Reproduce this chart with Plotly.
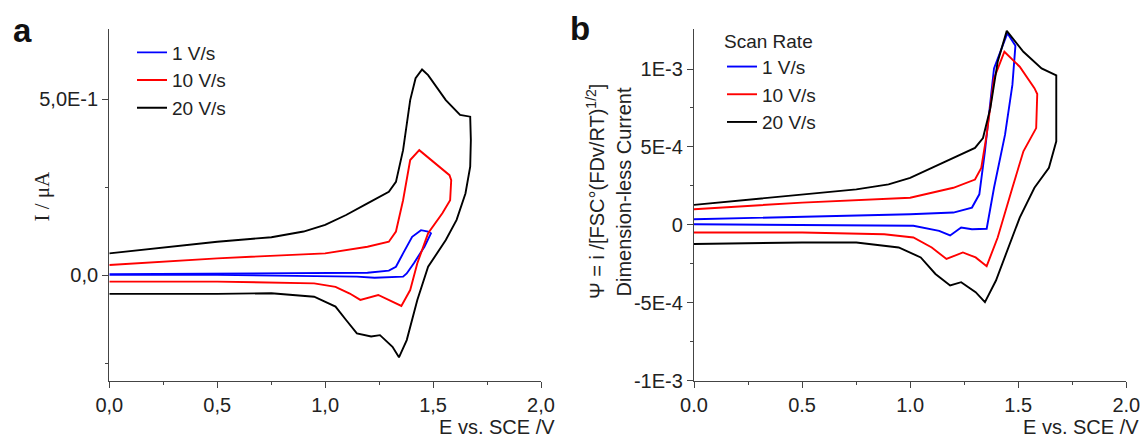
import plotly.graph_objects as go

# ---------------- Panel a data (I / uA vs E) ----------------
a_black_E = [0.000, 0.157, 0.500, 0.751, 0.900, 1.000, 1.097, 1.196, 1.295, 1.328, 1.361, 1.394, 1.419, 1.449,
             1.477, 1.559, 1.625, 1.672, 1.675, 1.672, 1.650, 1.609, 1.559, 1.477, 1.427, 1.378, 1.342, 1.312,
             1.254, 1.213, 1.147, 1.097, 1.048, 0.949, 0.751, 0.500, 0.000]
a_black_I = [0.062, 0.072, 0.095, 0.108, 0.124, 0.143, 0.171, 0.204, 0.237, 0.265, 0.355, 0.497, 0.559, 0.584,
             0.568, 0.497, 0.455, 0.450, 0.384, 0.308, 0.232, 0.157, 0.100, 0.024, -0.070, -0.184, -0.233, -0.203,
             -0.170, -0.174, -0.165, -0.127, -0.089, -0.061, -0.051, -0.053, -0.053]

a_red_E = [0.000, 0.500, 1.000, 1.196, 1.295, 1.328, 1.361, 1.394, 1.436, 1.510, 1.576, 1.584,
           1.579, 1.543, 1.477, 1.427, 1.394, 1.353, 1.312, 1.246, 1.163, 1.114, 1.048, 0.949, 0.500, 0.000]
a_red_I = [0.029, 0.048, 0.062, 0.081, 0.095, 0.124, 0.213, 0.327, 0.355, 0.318, 0.284, 0.270,
           0.213, 0.176, 0.119, 0.034, -0.042, -0.087, -0.075, -0.056, -0.070, -0.052, -0.033, -0.023, -0.018, -0.018]

a_blue_E = [0.000, 1.000, 1.196, 1.295, 1.328, 1.361, 1.403, 1.444, 1.477, 1.490,
            1.460, 1.411, 1.378, 1.361, 1.229, 1.147, 0.500, 0.000]
a_blue_I = [0.003, 0.005, 0.007, 0.013, 0.024, 0.062, 0.109, 0.128, 0.124, 0.119,
            0.081, 0.034, 0.005, -0.004, -0.007, -0.004, 0.001, 0.001]

# ---------------- Panel b data (dimension-less current vs E) ----------------
b_black_E = [0.000, 0.500, 0.751, 0.900, 1.000, 1.100, 1.200, 1.300, 1.337, 1.371, 1.405, 1.447, 1.524, 1.608, 1.676,
             1.676, 1.642, 1.575, 1.507, 1.456, 1.397, 1.346, 1.303, 1.236, 1.185, 1.117, 1.049, 0.947, 0.751, 0.500, 0.000]
b_black_P = [1.28e-4, 1.96e-4, 2.28e-4, 2.60e-4, 3.02e-4, 3.66e-4, 4.30e-4, 4.94e-4, 5.57e-4, 7.49e-4, 1.047e-3,
             1.245e-3, 1.111e-3, 1.004e-3, 0.960e-3,
             5.36e-4, 3.66e-4, 2.38e-4, 4.7e-5, -1.45e-4, -3.57e-4, -4.96e-4, -4.32e-4, -3.68e-4, -3.89e-4, -3.15e-4,
             -2.09e-4, -1.45e-4, -1.13e-4, -1.13e-4, -1.23e-4]

b_red_E = [0.000, 0.500, 1.000, 1.200, 1.300, 1.329, 1.354, 1.388, 1.436, 1.507, 1.575, 1.588,
           1.583, 1.524, 1.473, 1.405, 1.354, 1.303, 1.244, 1.168, 1.100, 1.015, 0.880, 0.500, 0.000]
b_red_P = [1.00e-4, 1.43e-4, 1.74e-4, 2.38e-4, 2.91e-4, 3.66e-4, 5.79e-4, 9.40e-4, 1.111e-3, 1.015e-3, 8.77e-4, 8.40e-4,
           6.21e-4, 4.72e-4, 2.38e-4, -8.1e-5, -2.65e-4, -2.09e-4, -1.77e-4, -2.19e-4, -1.45e-4, -8.1e-5, -6.0e-5,
           -4.9e-5, -4.9e-5]

b_blue_E = [0.000, 0.500, 1.000, 1.200, 1.286, 1.320, 1.346, 1.388, 1.450, 1.473, 1.487,
            1.473, 1.439, 1.388, 1.363, 1.354, 1.286, 1.236, 1.185, 1.134, 1.015, 0.500, 0.000]
b_blue_P = [3.6e-5, 5.1e-5, 6.8e-5, 7.9e-5, 1.11e-4, 1.96e-4, 4.72e-4, 1.004e-3, 1.230e-3, 1.180e-3, 1.150e-3,
            8.98e-4, 5.79e-4, 2.38e-4, 2.6e-5, -2.5e-5, -2.8e-5, -1.7e-5, -6.8e-5, -3.8e-5, -6e-6, 0.0, 4e-6]

# ---------------- labels / ticks ----------------
series_names = ["1 V/s", "10 V/s", "20 V/s"]
series_colors = ["#0000ff", "#ff0000", "#000000"]

x_tickvals = [0, 0.5, 1.0, 1.5, 2.0]
xa_ticktext = ["0,0", "0,5", "1,0", "1,5", "2,0"]
xb_ticktext = ["0.0", "0.5", "1.0", "1.5", "2.0"]
x_minorvals = [0.25, 0.75, 1.25, 1.75]

ya_tickvals = [0.0, 0.5]
ya_ticktext = ["0,0", "5,0E-1"]
ya_minorvals = [-0.25, 0.25]

yb_tickvals = [-1e-3, -5e-4, 0.0, 5e-4, 1e-3]
yb_ticktext = ["-1E-3", "-5E-4", "0", "5E-4", "1E-3"]
yb_minorvals = [-7.5e-4, -2.5e-4, 2.5e-4, 7.5e-4]

FONT = "Liberation Sans, Arial, sans-serif"
AX = "#444444"
TXT = "#222222"
W, H = 1143, 438

fig = go.Figure()

panel_a = [(a_blue_E, a_blue_I), (a_red_E, a_red_I), (a_black_E, a_black_I)]
panel_b = [(b_blue_E, b_blue_P), (b_red_E, b_red_P), (b_black_E, b_black_P)]

for (ex, iy), name, col in zip(panel_a, series_names, series_colors):
    fig.add_trace(go.Scatter(x=ex, y=iy, mode="lines", name=name,
                             line=dict(color=col, width=1.9),
                             xaxis="x", yaxis="y", legend="legend"))
for (ex, iy), name, col in zip(panel_b, series_names, series_colors):
    fig.add_trace(go.Scatter(x=ex, y=iy, mode="lines", name=name,
                             line=dict(color=col, width=1.9),
                             xaxis="x2", yaxis="y2", legend="legend2"))

def px_x(p):
    return p / W

def px_y(p):
    return 1 - p / H

axis_common = dict(showline=True, linecolor=AX, linewidth=1.3, ticks="outside", ticklen=6,
                   tickwidth=1.3, tickcolor=AX, showgrid=False, zeroline=False, automargin=False,
                   tickfont=dict(family=FONT, size=20, color=TXT), tickmode="array")
minor_common = dict(ticks="outside", ticklen=3, tickcolor=AX, tickwidth=1.3)

fig.update_layout(
    width=W, height=H,
    margin=dict(l=0, r=0, t=0, b=0, autoexpand=False),
    paper_bgcolor="white", plot_bgcolor="white",
    xaxis=dict(domain=[px_x(109.3), px_x(541)], range=[0, 2], anchor="y",
               tickvals=x_tickvals, ticktext=xa_ticktext,
               minor=dict(tickvals=x_minorvals, **minor_common), **axis_common),
    yaxis=dict(domain=[px_y(381.3), px_y(29.3)], range=[-0.301, 0.698], anchor="x",
               tickvals=ya_tickvals, ticktext=ya_ticktext,
               minor=dict(tickvals=ya_minorvals, **minor_common), **axis_common),
    xaxis2=dict(domain=[px_x(694), px_x(1126.3)], range=[0, 2], anchor="y2",
                tickvals=x_tickvals, ticktext=xb_ticktext,
                minor=dict(tickvals=x_minorvals, **minor_common), **axis_common),
    yaxis2=dict(domain=[px_y(380.7), px_y(29.3)], range=[-1e-3, 1.255e-3], anchor="x2",
                tickvals=yb_tickvals, ticktext=yb_ticktext,
                minor=dict(tickvals=yb_minorvals, **minor_common), **axis_common),
    legend=dict(x=px_x(132), y=px_y(33.5), xanchor="left", yanchor="top",
                font=dict(family=FONT, size=19, color=TXT),
                bgcolor="rgba(0,0,0,0)", borderwidth=0),
    legend2=dict(x=px_x(722), y=px_y(23), xanchor="left", yanchor="top",
                 title=dict(text="Scan Rate", font=dict(family=FONT, size=19, color=TXT)),
                 font=dict(family=FONT, size=19, color=TXT),
                 bgcolor="rgba(0,0,0,0)", borderwidth=0),
    showlegend=True,
)

annots = [
    dict(text="<b>a</b>", x=px_x(22), y=px_y(30), font=dict(family=FONT, size=33, color="#111111")),
    dict(text="<b>b</b>", x=px_x(580), y=px_y(28), font=dict(family=FONT, size=33, color="#111111")),
    dict(text="I / \u03bcA", x=px_x(41), y=px_y(196.5), textangle=-90,
         font=dict(family="Liberation Serif, Times New Roman, serif", size=21, color=TXT)),
    dict(text="\u03a8 = i /[FSC\u00b0(FDv/RT)<sup>1/2</sup>]", x=px_x(595.6), y=px_y(191.5), textangle=-90,
         font=dict(family=FONT, size=20, color=TXT)),
    dict(text="Dimension-less Current", x=px_x(623), y=px_y(192.5), textangle=-90,
         font=dict(family=FONT, size=20, color=TXT)),
    dict(text="E vs. SCE /V", x=px_x(557), y=px_y(426.5), xanchor="right",
         font=dict(family=FONT, size=20, color=TXT)),
    dict(text="E vs. SCE /V", x=px_x(1141), y=px_y(426.5), xanchor="right",
         font=dict(family=FONT, size=20, color=TXT)),
]
for an in annots:
    an.setdefault("xanchor", "center")
    an.setdefault("yanchor", "middle")
    fig.add_annotation(xref="paper", yref="paper", showarrow=False, **an)

fig.write_html("out.html",
               config={"displayModeBar": False},
               post_script="document.body.style.margin='0';document.body.style.overflow='hidden';")
